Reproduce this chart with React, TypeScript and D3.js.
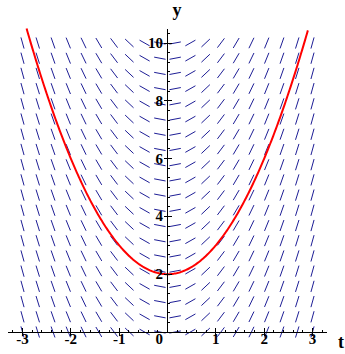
import { useMemo } from 'react'
import * as d3 from 'd3'

// dy/dt = 2t, solution through y(0) = 2
const tRange = [-3, 3]
const yRange = [0, 10]
const gridN = 20
const xTickLabels = [-3, -2, -1, 1, 2, 3]
const yTickLabels = [2, 4, 6, 8, 10]
const yTop = 10.5

const slope = (t: number) => 2 * t
const solution = (t: number) => t * t + 2

const W = 345
const H = 354

const App = () => {
    const x = d3.scaleLinear().domain([-3, 3]).range([22.5, 312.5])
    const y = d3.scaleLinear().domain([0, 10]).range([332, 43])

    const segs = useMemo(() => {
        const out: { x1: number; y1: number; x2: number; y2: number }[] = []
        const half = 5.8
        for (let i = 0; i < gridN; i++) {
            const t = tRange[0] + (i * (tRange[1] - tRange[0])) / (gridN - 1)
            for (let j = 0; j < gridN; j++) {
                const yy = yRange[0] + (j * (yRange[1] - yRange[0])) / (gridN - 1)
                const px = x(t)
                const py = y(yy)
                // direction of the field, measured in screen pixels
                const dx = x(t + 0.01) - x(t)
                const dy = y(yy + slope(t) * 0.01) - y(yy)
                const len = Math.hypot(dx, dy)
                const ux = (dx / len) * half
                const uy = (dy / len) * half
                out.push({ x1: px - ux, y1: py - uy, x2: px + ux, y2: py + uy })
            }
        }
        return out
    }, [])

    const tMax = Math.sqrt(yTop - 2)
    const curve = d3.range(-tMax, tMax + 0.0001, 0.02).map(t => [t, solution(t)] as [number, number])
    const line = d3
        .line<[number, number]>()
        .x(d => x(d[0]))
        .y(d => y(d[1]))

    const yMinor = d3.range(0, yTop + 0.001, 1 / 3)
    const xMinor = d3.range(-3.2, 3.25, 0.2)

    return (
        <svg width={W} height={H} style={{ position: 'absolute', left: 0, top: 0, background: '#fff' }}>
            <g stroke="#1e1e96" strokeWidth={1}>
                {segs.map((s, i) => (
                    <line key={i} x1={s.x1} y1={s.y1} x2={s.x2} y2={s.y2} />
                ))}
            </g>
            <path d={line(curve) ?? ''} fill="none" stroke="#ff0000" strokeWidth={2} />
            {/* axes */}
            <g stroke="#000" strokeWidth={1} shapeRendering="crispEdges">
                <line x1={8} x2={327} y1={y(0)} y2={y(0)} />
                <line x1={x(0)} x2={x(0)} y1={y(0)} y2={y(yTop)} />
                {xMinor.map((t, i) => (
                    <line key={'xm' + i} x1={x(t)} x2={x(t)} y1={y(0)} y2={y(0) - 2} />
                ))}
                {xTickLabels.map(t => (
                    <line key={'xM' + t} x1={x(t)} x2={x(t)} y1={y(0) - 4} y2={y(0) + 4} />
                ))}
                {yMinor.map((v, i) => (
                    <line key={'ym' + i} x1={x(0)} x2={x(0) + 2} y1={y(v)} y2={y(v)} />
                ))}
                {yTickLabels.map(v => (
                    <line key={'yM' + v} x1={x(0) - 4} x2={x(0) + 4} y1={y(v)} y2={y(v)} />
                ))}
            </g>
            <g fontFamily="'Liberation Serif', serif" fontWeight="bold" fontSize={15} fill="#000">
                {xTickLabels.map(t => (
                    <text key={'xl' + t} x={x(t)} y={344} textAnchor="middle">
                        {t}
                    </text>
                ))}
                <text x={163} y={344} textAnchor="end">
                    0
                </text>
                {yTickLabels.map(v => (
                    <text key={'yl' + v} x={163} y={y(v) + 5} textAnchor="end">
                        {v}
                    </text>
                ))}
                <text x={341} y={348} textAnchor="middle" fontSize={18}>
                    t
                </text>
                <text x={177} y={16} textAnchor="middle" fontSize={18}>
                    y
                </text>
            </g>
        </svg>
    )
}

export default App
